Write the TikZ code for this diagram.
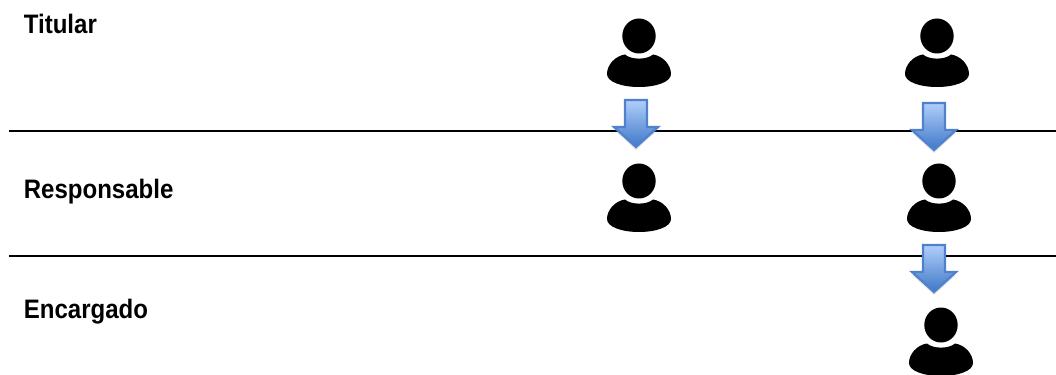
\documentclass[tikz,border=0pt]{standalone}
\usepackage{fontspec}
\usepackage{tikz}
\usetikzlibrary{shadows}
\newfontfamily\labelfont[FakeStretch=0.9]{Liberation Sans}
\definecolor{arrowline}{HTML}{4F81CD}
\definecolor{arrowtop}{HTML}{B0CEFA}
\definecolor{arrowbottom}{HTML}{3F78C8}

\begin{document}
\begin{tikzpicture}[x=0.02cm,y=-0.02cm]
		\tikzstyle{row-label}=[font=\labelfont\bfseries\fontsize{15.2}{18}\selectfont,anchor=base west,inner sep=0pt,color=black]
		\tikzstyle{row-line}=[color=black,line width=0.045cm]
		\tikzstyle{down-arrow}=[draw=arrowline,line width=0.045cm,line join=miter,top color=arrowtop,bottom color=arrowbottom,drop shadow={shadow xshift=0pt,shadow yshift=-0.06cm,opacity=0.2}]
		\tikzset{
			person/.pic={
				\fill[black] (0,0) ellipse (16.7 and 17.5);
				\fill[black] (-14,18.5) .. controls (-8,24) and (8,24) .. (14,18.5)
					.. controls (24,20) and (32,29) .. (32,38)
					.. controls (32,46) and (17,51) .. (0,51)
					.. controls (-17,51) and (-32,46) .. (-32,38)
					.. controls (-32,29) and (-24,20) .. (-14,18.5) -- cycle;
			},
			blockdown/.pic={
				\path[down-arrow] (-11,0) -- (11,0) -- (11,27) -- (22,27) -- (0,47) -- (-22,27) -- (-11,27) -- cycle;
			}
		}
		\useasboundingbox (0,0) rectangle (1056,375);
		% row lines
		\coordinate (l1) at (9,131);
		\coordinate (r1) at (1056,131);
		\coordinate (l2) at (9,256);
		\coordinate (r2) at (1056,256);
		\draw [row-line] (l1) -- (r1);
		\draw [row-line] (l2) -- (r2);
		% labels
		\node [row-label] at (23.5,34) (titular) {Titular};
		\node [row-label] at (23.5,198) (responsable) {Responsable};
		\node [row-label] at (23.5,318) (encargado) {Encargado};
		% people
		\pic at (639,36) {person};
		\pic at (937,36) {person};
		\pic at (639,181) {person};
		\pic at (939,181) {person};
		\pic at (941,325) {person};
		% arrows
		\pic at (636,100) {blockdown};
		\pic at (934,103) {blockdown};
		\pic at (934,245) {blockdown};
	\end{tikzpicture}
\end{document}
